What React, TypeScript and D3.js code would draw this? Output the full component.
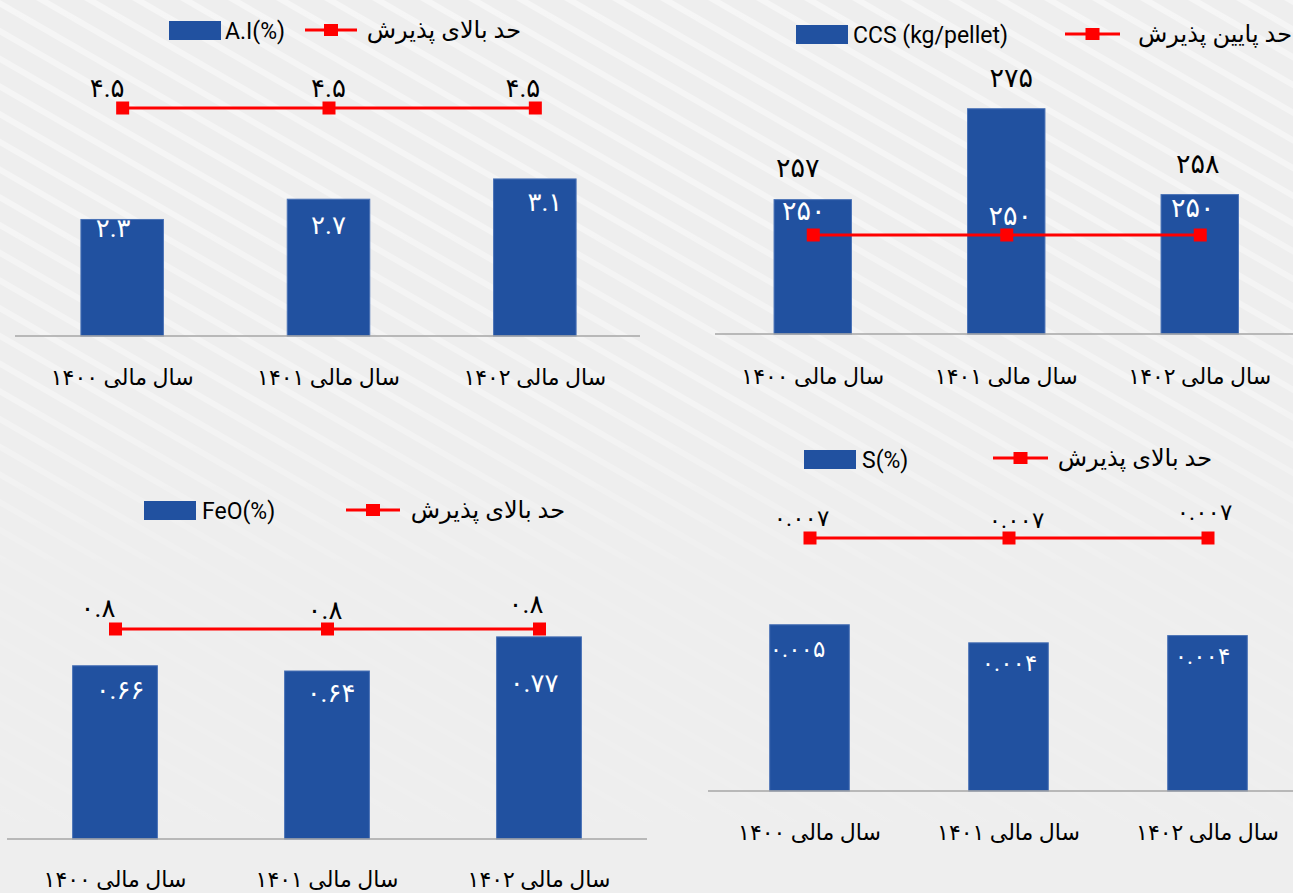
import React from 'react'
import * as d3 from 'd3'

// categories (financial years)
const years = ['سال مالی ۱۴۰۰', 'سال مالی ۱۴۰۱', 'سال مالی ۱۴۰۲']

// A.I (%) and its upper acceptance limit
const aiValues = [2.3, 2.7, 3.1]
const aiLimit = [4.5, 4.5, 4.5]

// CCS (kg/pellet) and its lower acceptance limit
const ccsValues = [257, 275, 258]
const ccsLimit = [250, 250, 250]

// FeO (%) and its upper acceptance limit
const feoValues = [0.66, 0.64, 0.77]
const feoLimit = [0.8, 0.8, 0.8]

// S (%) and its upper acceptance limit
const sValues = [0.0046, 0.0041, 0.0043]
const sLimit = [0.007, 0.007, 0.007]

const upperLimitName = 'حد بالای پذیرش'
const lowerLimitName = 'حد پایین پذیرش'

const BAR = '#2151a0'
const BAR_EDGE = '#4a72b6'
const RED = '#ff0000'
const FONT = "Roboto, 'DejaVu Sans', sans-serif"

const toFa = (s: string) => s.replace(/\d/g, d => '۰۱۲۳۴۵۶۷۸۹'[+d])

interface Panel {
  name: string
  limitName: string
  values: number[]
  limits: number[]
  fmtBar: (n: number) => string
  fmtLimit: (n: number) => string
  band: [number, number]
  axis: [number, number, number]
  yDomain: [number, number]
  barAbove: boolean
  barDx: number[]
  barDy: number[]
  limDx: number[]
  limDy: number[]
  catY: number
  barFont: number
  limFont: number
  legend: { rectX: number; rectY: number; textX: number; lineX1: number; lineX2: number; lineY: number; limitRight: number }
}

const panels: Panel[] = [
  {
    name: 'A.I(%)', limitName: upperLimitName, values: aiValues, limits: aiLimit,
    fmtBar: d3.format('.1f'), fmtLimit: d3.format('.1f'),
    band: [19, 638], axis: [15, 640, 336], yDomain: [0, 4.5],
    barAbove: false, barDx: [-9, 0, 10], barDy: [9, 26, 23], limDx: [-15, 0, -12], limDy: [-20, -20, -20],
    catY: 377, barFont: 26, limFont: 26,
    legend: { rectX: 169, rectY: 21, textX: 225, lineX1: 305, lineX2: 357, lineY: 30, limitRight: 521 },
  },
  {
    name: 'CCS (kg/pellet)', limitName: lowerLimitName, values: ccsValues, limits: ccsLimit,
    fmtBar: d3.format('d'), fmtLimit: d3.format('d'),
    band: [716, 1296.5], axis: [715, 1293, 334], yDomain: [230.4, 275],
    barAbove: true, barDx: [-15, 5, -2], barDy: [-32, -31, -31], limDx: [-9, 4, -7], limDy: [-24, -19, -27],
    catY: 376, barFont: 27, limFont: 27,
    legend: { rectX: 796, rectY: 25, textX: 853, lineX1: 1065, lineX2: 1120, lineY: 34, limitRight: 1292 },
  },
  {
    name: 'FeO(%)', limitName: upperLimitName, values: feoValues, limits: feoLimit,
    fmtBar: d3.format('.2f'), fmtLimit: d3.format('.1f'),
    band: [9, 645], axis: [7, 647, 839], yDomain: [0, 0.8],
    barAbove: false, barDx: [5, 4, -5], barDy: [24, 22, 46], limDx: [-17, -2, -13], limDy: [-21, -19, -25],
    catY: 879, barFont: 26, limFont: 26,
    legend: { rectX: 144, rectY: 501, textX: 202, lineX1: 346, lineX2: 400, lineY: 510, limitRight: 565 },
  },
  {
    name: 'S(%)', limitName: upperLimitName, values: sValues, limits: sLimit,
    fmtBar: d3.format('.3f'), fmtLimit: d3.format('.3f'),
    band: [710, 1307], axis: [708, 1293, 791], yDomain: [0, 0.007],
    barAbove: false, barDx: [-12, 1, -5], barDy: [25, 21, 21], limDx: [-8, 8, -3], limDy: [-20, -18, -26],
    catY: 832, barFont: 23, limFont: 23,
    legend: { rectX: 804, rectY: 450, textX: 862, lineX1: 993, lineX2: 1048, lineY: 458, limitRight: 1212 },
  },
]

// pixel row of the limit line per panel
const limitY = [108, 235, 629, 538]

function ChartPanel({ p, idx }: { p: Panel; idx: number }) {
  const x = d3.scaleBand<string>().domain(years).range(p.band).paddingInner(0.6).paddingOuter(0.3)
  const y = d3.scaleLinear().domain([p.yDomain[0], p.limits[0]]).range([p.axis[2], limitY[idx]])
  const base = p.axis[2]
  const cx = (i: number) => (x(years[i]) as number) + x.bandwidth() / 2
  const line = d3.line<number>().x((_, i) => cx(i)).y(d => y(d))
  const lg = p.legend
  return (
    <g fontFamily={FONT}>
      {/* legend */}
      <rect x={lg.rectX} y={lg.rectY} width={52} height={19} fill={BAR} />
      <text x={lg.textX} y={lg.rectY + 10} fontSize={23} fill="#000" dominantBaseline="central">{p.name}</text>
      <line x1={lg.lineX1} x2={lg.lineX2} y1={lg.lineY} y2={lg.lineY} stroke={RED} strokeWidth={3} />
      <rect x={(lg.lineX1 + lg.lineX2) / 2 - 7} y={lg.lineY - 6} width={14} height={12} fill={RED} />
      <text x={lg.limitRight} y={lg.lineY} fontSize={24} fill="#000" textAnchor="end" dominantBaseline="central">{p.limitName}</text>

      {/* bars */}
      {p.values.map((v, i) => (
        <rect key={'b' + i} x={x(years[i])} y={y(v)} width={x.bandwidth()} height={base - y(v)}
          fill={BAR} stroke={BAR_EDGE} strokeWidth={1} />
      ))}

      {/* axis */}
      <line x1={p.axis[0]} x2={p.axis[1]} y1={base} y2={base} stroke="#a6a6a6" strokeWidth={1.5} />
      {years.map((c, i) => (
        <text key={'c' + i} x={cx(i)} y={p.catY} fontSize={22} fill="#000" textAnchor="middle" dominantBaseline="central">{c}</text>
      ))}

      {/* limit line */}
      <path d={line(p.limits) as string} fill="none" stroke={RED} strokeWidth={3} />
      {p.limits.map((v, i) => (
        <rect key={'m' + i} x={cx(i) - 6} y={y(v) - 6.5} width={13} height={13} fill={RED} />
      ))}

      {/* bar labels */}
      {p.values.map((v, i) => (
        <text key={'bl' + i} x={cx(i) + p.barDx[i]} y={y(v) + p.barDy[i]} fontSize={p.barFont}
          fill={p.barAbove ? '#000' : '#fff'} textAnchor="middle" dominantBaseline="central">
          {toFa(p.fmtBar(v))}
        </text>
      ))}

      {/* limit labels */}
      {p.limits.map((v, i) => (
        <text key={'ll' + i} x={cx(i) + p.limDx[i]} y={y(v) + p.limDy[i]} fontSize={p.limFont}
          fill={p.barAbove ? '#fff' : '#000'} textAnchor="middle" dominantBaseline="central">
          {toFa(p.fmtLimit(v))}
        </text>
      ))}
    </g>
  )
}

export default function App() {
  const W = 1293
  const H = 893
  return (
    <svg width={W} height={H} style={{ position: 'absolute', left: 0, top: 0, display: 'block' }}>
      <defs>
        <pattern id="stripes" width={24} height={24} patternUnits="userSpaceOnUse" patternTransform="rotate(30)">
          <rect width={24} height={6} fill="#ffffff" />
        </pattern>
        <linearGradient id="fade" x1="0" y1="0" x2="0" y2="1">
          <stop offset="0" stopColor="#fff" stopOpacity={0.45} />
          <stop offset="0.45" stopColor="#fff" stopOpacity={0.35} />
          <stop offset="0.65" stopColor="#fff" stopOpacity={0.08} />
          <stop offset="1" stopColor="#fff" stopOpacity={0.05} />
        </linearGradient>
        <mask id="fadeMask">
          <rect width={W} height={H} fill="url(#fade)" />
        </mask>
      </defs>
      <rect width={W} height={H} fill="#eeeeee" />
      <rect width={W} height={H} fill="url(#stripes)" mask="url(#fadeMask)" />
      {panels.map((p, i) => (
        <ChartPanel key={p.name} p={p} idx={i} />
      ))}
    </svg>
  )
}
